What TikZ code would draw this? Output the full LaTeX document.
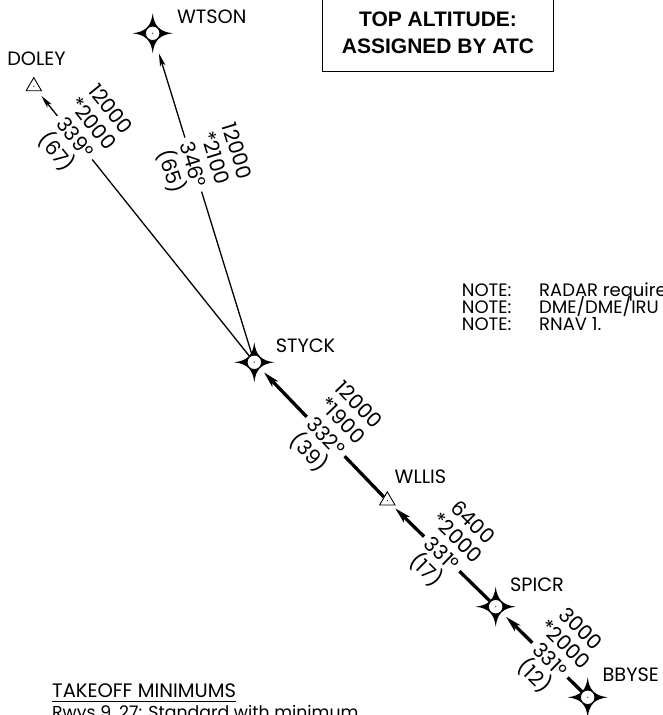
\documentclass[tikz,border=0pt]{standalone}
\usepackage{fontspec}
\setmainfont{Poppins}
\newfontfamily\boxfont{Liberation Sans}
\usetikzlibrary{arrows.meta,calc}
\tikzset{
  legthin/.style={line width=1.3pt, -{Stealth[length=13pt,width=5.5pt,inset=3pt]}},
  legthick/.style={line width=3.3pt, -{Stealth[length=16pt,width=8pt,inset=4pt]}},
  lbl/.style={font=\fontsize{20.5}{23}\selectfont, inner sep=0pt, text height=14.3pt, text depth=0pt, transform shape, anchor=center},
  course/.style={lbl, fill=white, inner xsep=5pt, inner ysep=3pt},
  fixname/.style={font=\fontsize{19.3}{24}\selectfont, inner sep=0pt, anchor=base},
  notetxt/.style={font=\fontsize{18}{20}\selectfont, inner sep=0pt, anchor=base west},
  mintxt/.style={font=\fontsize{19.5}{24}\selectfont, inner sep=0pt, anchor=base west},
  wp/.pic={
    \fill[black] (20,0) .. controls (7,1.6) and (1.6,7) .. (0,20)
      .. controls (-1.6,7) and (-7,1.6) .. (-20,0)
      .. controls (-7,-1.6) and (-1.6,-7) .. (0,-20)
      .. controls (1.6,-7) and (7,-1.6) .. cycle;
    \draw[line width=0.8pt, fill=white] (0,0) circle (7.2pt);
    \fill[black!60] (0,0) circle (0.8pt);
  },
  tri/.pic={
    \draw[line width=0.9pt, fill=white, line join=miter] (0,8.8) -- (7.7,-4.4) -- (-7.7,-4.4) -- cycle;
    \fill (0,0) circle (0.6pt);
  }
}
\begin{document}
\begin{tikzpicture}[x=1pt,y=1pt]
\path[use as bounding box, clip] (0,0) rectangle (662,715);
\fill[white] (0,0) rectangle (662,715);

% waypoints
\coordinate (wtson) at (152.7,681.7);
\coordinate (doley) at (33.8,628.6);
\coordinate (styck) at (254.3,352.7);
\coordinate (wllis) at (387.3,214.4);
\coordinate (spicr) at (495.7,108.3);
\coordinate (bbyse) at (587.7,17.7);

% legs
\draw[legthin, shorten <=8pt, shorten >=12pt] (styck) -- (doley);
\draw[legthin, shorten <=8pt, shorten >=21pt] (styck) -- (wtson);
\draw[legthick, shorten <=5pt, shorten >=14pt] (wllis) -- (styck);
\draw[legthick, shorten <=8pt, shorten >=11pt] (spicr) -- (wllis);
\draw[legthick, shorten <=8pt, shorten >=14.5pt] (bbyse) -- (spicr);

% leg labels
\begin{scope}[shift={($(styck)!0.814!(doley)$)}, rotate=-51.37]
  \node[course] (cA) at (0,0) {339°};
  \node[lbl] (aA) at (0,46) {12000};
  \node[lbl] (mA) at (0,23) {*2000};
  \node[lbl] (dA) at (0,-23) {(67)};
\end{scope}
\begin{scope}[shift={($(styck)!0.601!(wtson)$)}, rotate=-72.84]
  \node[course] (cB) at (0,0) {346°};
  \node[lbl] (aB) at (0,46) {12000};
  \node[lbl] (mB) at (0,23) {*2100};
  \node[lbl] (dB) at (0,-23) {(65)};
\end{scope}
\begin{scope}[shift={($(wllis)!0.463!(styck)$)}, rotate=-46.12]
  \node[course] (cC) at (0,0) {332°};
  \node[lbl] (aC) at (0,46) {12000};
  \node[lbl] (mC) at (0,23) {*1900};
  \node[lbl] (dC) at (0,-23) {(39)};
\end{scope}
\begin{scope}[shift={($(spicr)!0.498!(wllis)$)}, rotate=-44.38]
  \node[course] (cD) at (0,0) {331°};
  \node[lbl] (aD) at (0,44.5) {6400};
  \node[lbl] (mD) at (0,22.3) {*2000};
  \node[lbl] (dD) at (0,-22.3) {(17)};
\end{scope}
\begin{scope}[shift={($(bbyse)!0.41!(spicr)$)}, rotate=-44.56]
  \node[course] (cE) at (0,0) {331°};
  \node[lbl] (aE) at (0,44) {3000};
  \node[lbl] (mE) at (0,22) {*2000};
  \node[lbl] (dE) at (0,-22) {(12)};
\end{scope}

% symbols
\pic at (wtson) {wp};
\pic at (styck) {wp};
\pic at (spicr) {wp};
\pic at (bbyse) {wp};
\pic at (doley) {tri};
\pic at (wllis) {tri};

% names
\node[fixname] (nwtson) at (211.7,691) {WTSON};
\node[fixname] (ndoley) at (36.5,649) {DOLEY};
\node[fixname] (nstyck) at (305.5,362) {STYCK};
\node[fixname] (nwllis) at (420.5,231.7) {WLLIS};
\node[fixname] (nspicr) at (537,123) {SPICR};
\node[fixname, anchor=base east] (nbbyse) at (659,33) {BBYSE};

% box
\node[draw, line width=0.9pt, anchor=south, minimum width=230.6pt, minimum height=77pt, inner sep=0pt, align=center,
      font=\boxfont\bfseries\fontsize{21}{26.5}\selectfont] (topalt) at (438,643.3) {TOP ALTITUDE:\\ASSIGNED BY ATC};

% notes
\node[notetxt] (n1) at (461.7,418) {NOTE:};
\node[notetxt] (n1t) at (539,418) {RADAR required.};
\node[notetxt] (n2) at (461.7,401) {NOTE:};
\node[notetxt] (n2t) at (539,401) {DME/DME/IRU or GPS required.};
\node[notetxt] (n3) at (461.7,384) {NOTE:};
\node[notetxt] (n3t) at (539,384) {RNAV 1.};

% takeoff minimums
\node[mintxt] (tko) at (52,17) {TAKEOFF MINIMUMS};
\draw[line width=0.9pt] ([yshift=-3.7pt]tko.base west) -- ([yshift=-3.7pt]tko.base east);
\node[mintxt, font=\fontsize{17.3}{24}\selectfont] (rwys) at (52,-3) {Rwys 9, 27: Standard with minimum};
\end{tikzpicture}
\end{document}
